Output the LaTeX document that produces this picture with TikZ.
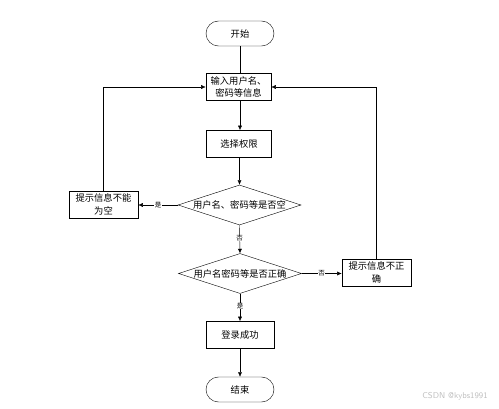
\documentclass[tikz,border=0pt]{standalone}
\usepackage{fontspec}
\newfontfamily\cjk{Noto Sans CJK SC}
\usetikzlibrary{shapes.geometric,arrows.meta}
\begin{document}
\begin{tikzpicture}[x=1pt,y=-1pt,
  every node/.style={font=\cjk\fontsize{9.3}{12.5}\selectfont},
  term/.style={draw,rounded corners=12.5pt,minimum width=68pt,minimum height=25pt,inner sep=0pt},
  proc/.style={draw,semithick,minimum width=65pt,minimum height=27pt,inner sep=0pt,align=center,text width=63pt},
  dec/.style={draw,diamond,minimum width=123pt,minimum height=40pt,inner sep=0pt},
  lab/.style={fill=white,inner sep=0.5pt,font=\cjk\fontsize{6.5}{7}\selectfont},
  arr/.style={-{Latex[length=4.5pt,width=4pt]}}
]
\useasboundingbox (0,0) rectangle (499,409);
\node[term] (start) at (240,33.5) {开始};
\node[proc] (input) at (238.5,87) {输入用户名、\\密码等信息};
\node[proc] (role) at (239,144) {选择权限};
\node[dec] (d1) at (239.5,205) {};
\node (t1) at (239.5,205) {用户名、密码等是否空};
\node[dec] (d2) at (240,273.5) {};
\node (t2) at (240,273.5) {用户名密码等是否正确};
\node[proc,minimum width=69pt,text width=68pt] (empty) at (103.5,204.5) {提示信息不能\\为空};
\node[proc,minimum width=69pt,text width=68pt] (wrong) at (376.5,272.5) {提示信息不正\\确};
\node[proc,minimum width=68pt] (ok) at (240,335) {登录成功};
\node[term] (end) at (240,389.5) {结束};
\coordinate (lc) at (empty.north |- input.west);
\coordinate (rc) at (wrong.north |- input.east);
\draw (start) -- (start |- input.north);
\draw[arr] (start |- input.south) -- (start |- role.north);
\draw[arr] (d1.north |- role.south) -- (d1.north);
\draw[arr] (d1.west) -- node[lab] {是} (d1.west -| empty.east);
\draw[arr] (d1.south) -- node[lab,pos=0.45] {否} (d2.north);
\draw[arr] (d2.east) -- node[lab] {否} (d2.east -| wrong.west);
\draw[arr] (d2.south) -- node[lab,pos=0.45] {是} (ok.north);
\draw[arr] (ok.south) -- (end.north);
\draw[arr] (empty.north) -- (lc) -- (input.west);
\draw[arr] (wrong.north) -- (rc) -- (input.east);
\node[text=black!25,font=\sffamily\fontsize{8.5}{9}\selectfont] (wm) at (455,396) {CSDN @kybs1991};
\end{tikzpicture}
\end{document}
